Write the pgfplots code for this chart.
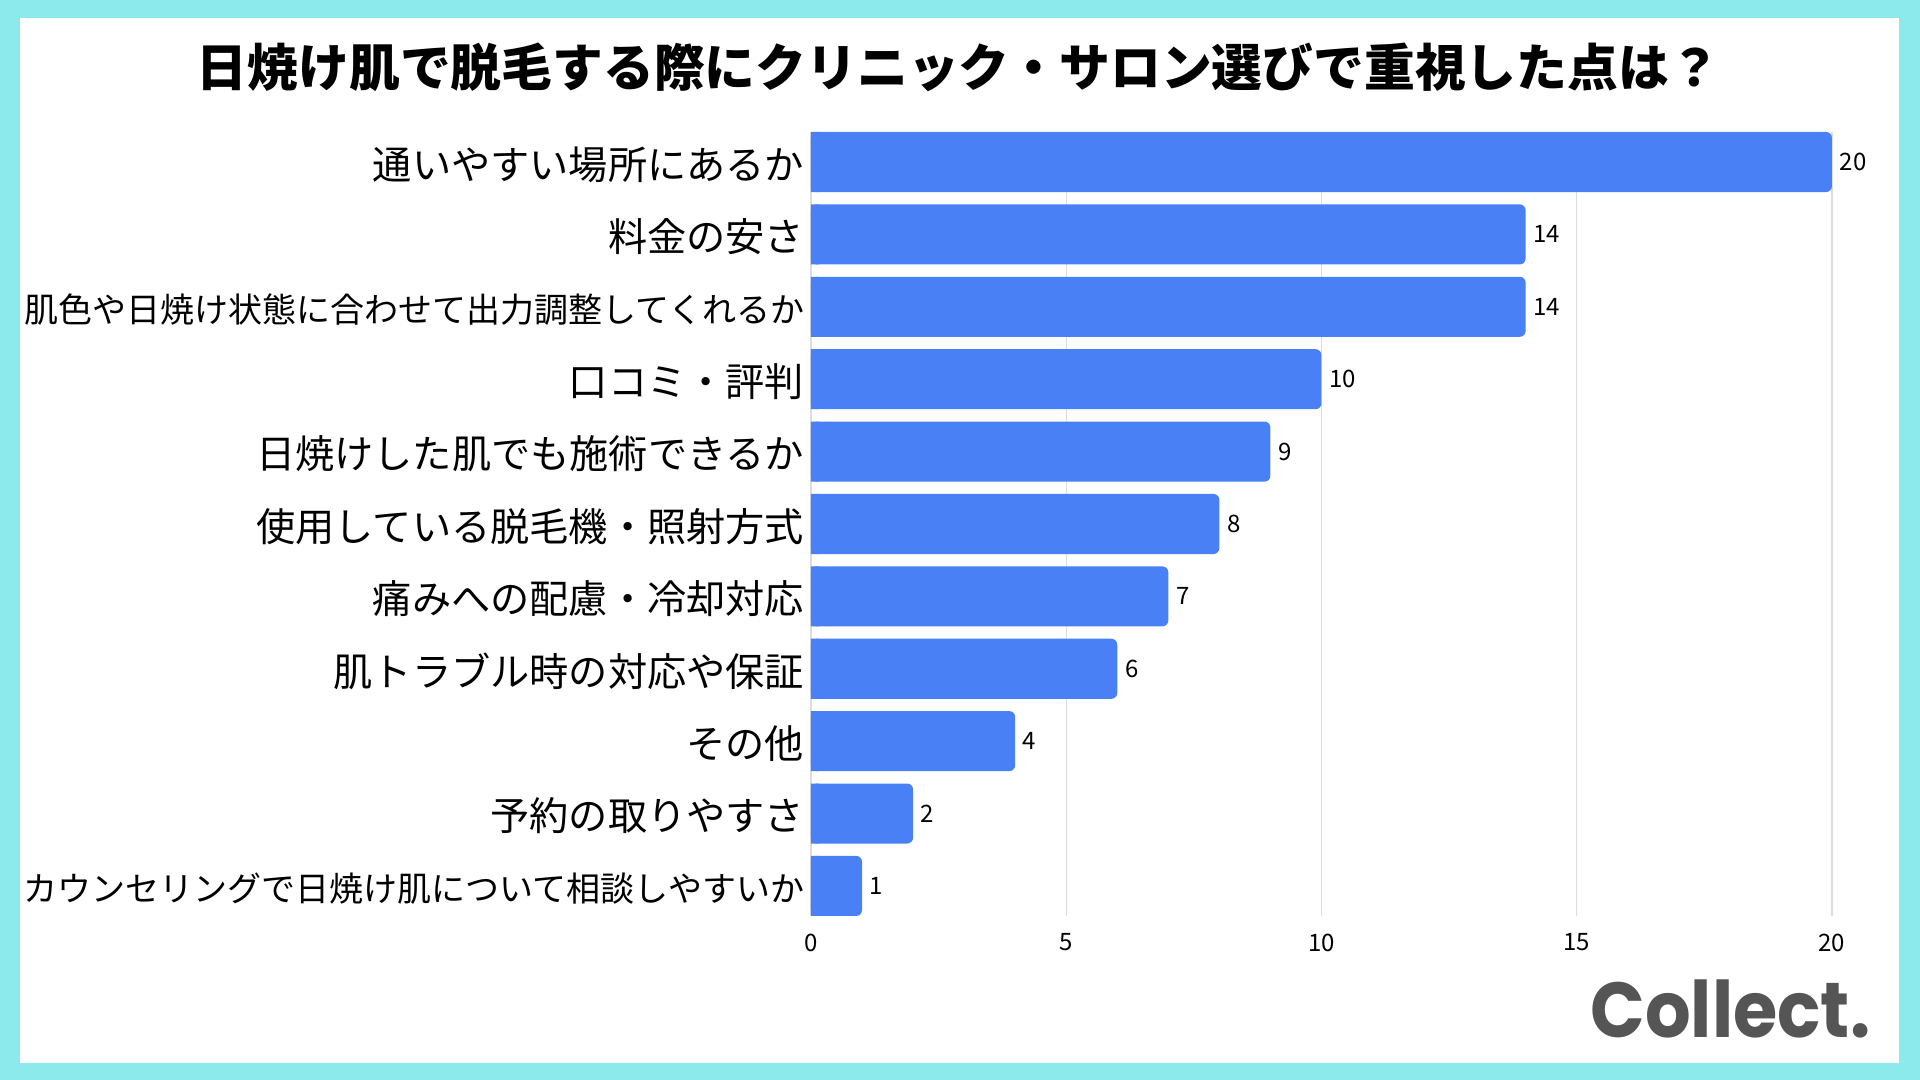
\documentclass[border=0pt]{standalone}
\usepackage{fontspec}
\setmainfont{Noto Sans CJK JP}
\newfontfamily\logofont{Poppins}
\usepackage{pgfplots}
\pgfplotsset{compat=1.18}
\definecolor{frame}{RGB}{140,233,236}
\definecolor{barblue}{RGB}{74,128,245}
\definecolor{logogray}{RGB}{85,85,85}
\definecolor{gridgray}{RGB}{221,221,221}

\begin{document}
\begin{tikzpicture}
% frame and card
\fill[frame] (0pt,0pt) rectangle (480pt,270pt);
\fill[white] (5pt,4.25pt) rectangle (474.75pt,265.5pt);

% title
\node[font=\bfseries\fontsize{12.7}{15}\selectfont, anchor=center, inner sep=0pt]
  at (239.6pt,253.25pt) {日焼け肌で脱毛する際にクリニック・サロン選びで重視した点は？};

\begin{axis}[
  at={(202.75pt,41pt)}, anchor=south west,
  scale only axis, width=255.25pt, height=196pt,
  xbar, bar width=0.83,
  xmin=0, xmax=20, ymin=-0.415, ymax=10.415,
  axis line style={draw=none},
  xtick={0,5,10,15,20}, ytick={0,...,10},
  yticklabels={
    {\fontsize{8.5}{10}\selectfont カウンセリングで日焼け肌について相談しやすいか},
    予約の取りやすさ,
    その他,
    肌トラブル時の対応や保証,
    痛みへの配慮・冷却対応,
    使用している脱毛機・照射方式,
    日焼けした肌でも施術できるか,
    口コミ・評判,
    {\fontsize{8.5}{10}\selectfont 肌色や日焼け状態に合わせて出力調整してくれるか},
    料金の安さ,
    通いやすい場所にあるか},
  major tick length=0pt,
  xmajorgrids, grid style={gridgray, line width=0.3pt},
  clip=false,
  /pgf/number format/assume math mode=true,
  xticklabel style={font=\fontsize{6}{7}\selectfont, inner sep=0pt, yshift=-4.2pt},
  yticklabel style={font=\fontsize{9.8}{12}\selectfont, inner sep=0pt, xshift=-1.5pt, yshift=-0.6pt},
]
% bars with rounded ends
\addplot[fill=barblue, draw=none, bar shift=0pt, rounded corners=1.5pt,
  nodes near coords,
  nodes near coords style={font=\fontsize{6}{7}\selectfont, anchor=west, inner sep=0pt, xshift=1.75pt, black}]
  coordinates {
    (1,0) (2,1) (4,2) (6,3) (7,4) (8,5) (9,6) (10,7) (14,8) (14,9) (20,10)
  };
% square off the bar bases
\addplot[fill=barblue, draw=none, bar shift=0pt]
  coordinates {
    (0.15,0) (0.15,1) (0.15,2) (0.15,3) (0.15,4) (0.15,5) (0.15,6) (0.15,7) (0.15,8) (0.15,9) (0.15,10)
  };
\end{axis}

% logo
\node[font=\logofont\bfseries\fontsize{19.5}{22}\selectfont, text=logogray, anchor=base east, inner sep=0pt, xscale=0.92]
  at (467.75pt,10.5pt) {Collect.};
\end{tikzpicture}
\end{document}
